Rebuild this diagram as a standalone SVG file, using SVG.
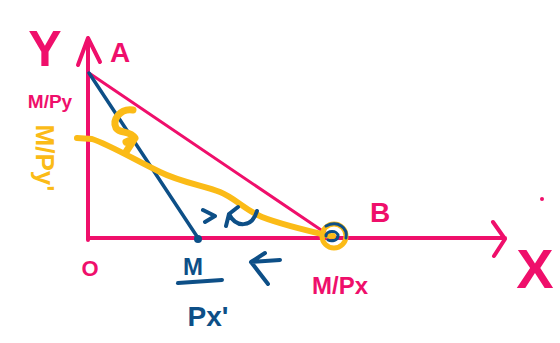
<svg xmlns="http://www.w3.org/2000/svg" width="560" height="343" viewBox="0 0 560 343">
<style>
.pk{stroke:#ef0f6b;fill:none;stroke-linecap:round;stroke-linejoin:round}
.bl{stroke:#0d4f87;fill:none;stroke-linecap:round;stroke-linejoin:round}
.yl{stroke:#fbbb17;fill:none;stroke-linecap:round;stroke-linejoin:round}
.t{font-family:"Liberation Sans",Arial,sans-serif;font-weight:bold;text-anchor:middle}
.tp{fill:#ef0f6b}.tb{fill:#0d4f87}.ty{fill:#fbbb17}
</style>
<rect width="560" height="343" fill="#fff"/>
<g id="connectors">
<path class="pk" stroke-width="4" d="M88,240 L88,40 M78,65 L88,38 L100,62"/>
<path class="pk" stroke-width="4" d="M88,238 L505,238 M493,222 L505,239 L494,256"/>
<path class="pk" stroke-width="3" d="M89,73 L330,236"/>
<path class="bl" stroke-width="3.5" d="M89,73 L198,238"/>
<path class="yl" stroke-width="6" d="M77,138 L92,139 C110,145 135,160 160,172 C180,182 205,186 220,192 C235,198 245,210 262,217 C280,224 300,229 330,236"/>
<path class="yl" stroke-width="7" d="M133,110 C120,108 112,120 116,128 C120,134 130,130 135,138 L126,152 M135,138 L126,142"/>
<path class="bl" stroke-width="4" d="M203,210 L215,216 L205,222 M257,211 C252,228 236,228 229,214 M229,214 L226,226 M229,214 L238,207"/>
<path class="bl" stroke-width="4" d="M280,260 L251,262 L265,253 M251,262 L268,284"/>
</g>
<g id="origin-O"><text class="t tp" x="90" y="276" font-size="22">O</text></g>
<g id="label-Y">
<text class="t tp" x="45" y="66" font-size="50">Y</text>
</g>
<g id="node-A"><text class="t tp" x="120" y="62" font-size="28">A</text></g>
<g id="label-MPy"><text class="t tp" x="50" y="108" font-size="19">M/Py</text></g>
<g id="label-MPy2"><text class="t ty" font-size="26" transform="translate(36,158) rotate(90)">M/Py'</text></g>
<g id="node-B">
<circle cx="334" cy="236" r="12" class="yl" stroke-width="5"/>
<path class="bl" stroke-width="3" d="M326,226 C338,220 348,228 346,238 M326,236 C326,230 338,230 338,236 C338,240 332,242 328,240"/>
<circle cx="333" cy="236" r="3" fill="#fbbb17"/>
<text class="t tp" x="380" y="222" font-size="28">B</text>
<text class="t tp" x="340" y="294" font-size="24">M/Px</text>
</g>
<g id="node-Px2">
<circle cx="198" cy="239" r="4" fill="#0d4f87"/>
<text class="t tb" x="193" y="275" font-size="24">M</text>
<path class="bl" stroke-width="4" d="M178,283 L222,280"/>
<text class="t tb" x="208" y="326" font-size="28">Px'</text>
</g>
<g id="label-X">
<circle cx="542" cy="199" r="2" fill="#ef0f6b"/>
<text class="t tp" x="535" y="288" font-size="56">X</text>
</g>
</svg>
